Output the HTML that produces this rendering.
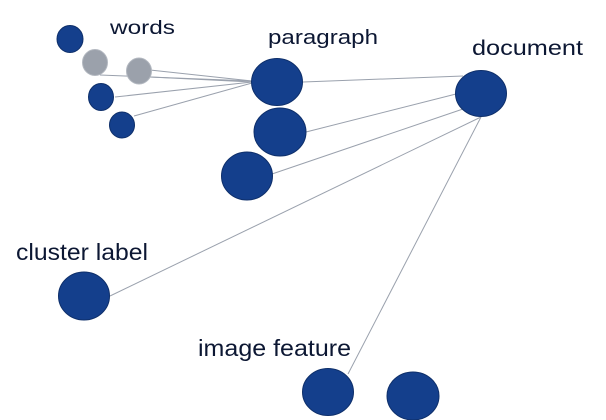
<!DOCTYPE html>
<html>
<head>
<meta charset="utf-8">
<style>
html,body{margin:0;padding:0;background:#fff;}
svg{display:block;}
text{font-family:"Liberation Sans","DejaVu Sans",sans-serif;fill:#0c1733;}
</style>
</head>
<body>
<svg width="606" height="420" viewBox="0 0 606 420" xmlns="http://www.w3.org/2000/svg">
  <g stroke="#9aa1ad" stroke-width="1" fill="none">
    <line x1="100" y1="75" x2="252" y2="81"/>
    <line x1="150" y1="70" x2="252" y2="81"/>
    <line x1="150" y1="77" x2="252" y2="82"/>
    <line x1="115" y1="97" x2="252" y2="82"/>
    <line x1="134" y1="116" x2="252" y2="83"/>
    <line x1="303" y1="82" x2="463" y2="76"/>
    <line x1="306" y1="132" x2="456" y2="94"/>
    <line x1="272" y1="174" x2="463" y2="109"/>
    <line x1="110" y1="296" x2="481" y2="117"/>
    <line x1="348" y1="374" x2="481" y2="117"/>
  </g>
  <g fill="#9ba1ab" stroke="#b3b8c0" stroke-width="1">
    <ellipse cx="95" cy="62.5" rx="12.5" ry="13"/>
    <ellipse cx="139" cy="71" rx="12.5" ry="13"/>
  </g>
  <g fill="#143f8c" stroke="#0e2f6a" stroke-width="1">
    <ellipse cx="70" cy="39" rx="13" ry="13.5"/>
    <ellipse cx="101" cy="97" rx="12.5" ry="13.5"/>
    <ellipse cx="122" cy="125" rx="12.5" ry="13"/>
    <ellipse cx="277" cy="82" rx="25.5" ry="23.5"/>
    <ellipse cx="280" cy="132" rx="26" ry="24"/>
    <ellipse cx="247" cy="176" rx="25.5" ry="24"/>
    <ellipse cx="481" cy="93.5" rx="25.5" ry="23"/>
    <ellipse cx="84" cy="296" rx="25.5" ry="24"/>
    <ellipse cx="328" cy="392" rx="25.5" ry="23.5"/>
    <ellipse cx="413" cy="396" rx="26" ry="24"/>
  </g>
  <text x="110" y="34" font-size="19.5" textLength="65" lengthAdjust="spacingAndGlyphs">words</text>
  <text x="268" y="44" font-size="20.5" textLength="110" lengthAdjust="spacingAndGlyphs">paragraph</text>
  <text x="472" y="55" font-size="21.5" textLength="111" lengthAdjust="spacingAndGlyphs">document</text>
  <text x="16" y="260" font-size="23.5" textLength="132" lengthAdjust="spacingAndGlyphs">cluster label</text>
  <text x="198" y="356" font-size="23.5" textLength="153" lengthAdjust="spacingAndGlyphs">image feature</text>
</svg>
</body>
</html>
